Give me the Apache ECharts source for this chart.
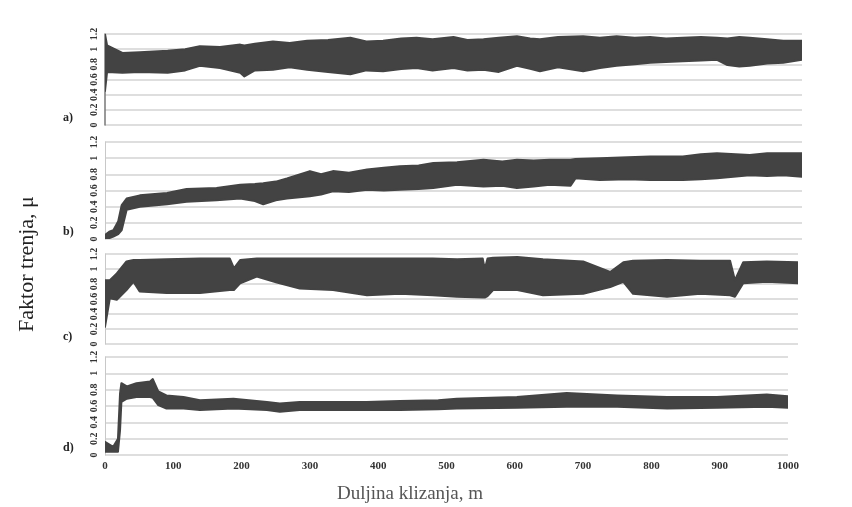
<!DOCTYPE html>
<html>
<head>
<meta charset="utf-8">
<script src="https://cdn.jsdelivr.net/npm/echarts@6/dist/echarts.min.js"></script>
<style>html,body{margin:0;padding:0;background:#fff}#c{width:852px;height:507px}</style>
</head>
<body>
<div id="c"></div>
<script>
// Panel labels and tick labels
var panelNames = ['a)', 'b)', 'c)', 'd)'];
var xTicks = [0, 100, 200, 300, 400, 500, 600, 700, 800, 900, 1000];
var yTicks = [0, 0.2, 0.4, 0.6, 0.8, 1, 1.2];

// Panel a) envelope of the friction trace (sliding distance m, lower, upper)
var aX    = [0, 3, 25, 50, 90, 115, 136, 165, 194, 200, 215, 241, 265, 290, 320, 352, 375, 399, 425, 447, 470, 500, 520, 543, 565, 591, 610, 624, 650, 686, 710, 734, 760, 782, 805, 829, 855, 878, 893, 910, 925, 950, 973, 1000];
var aLow  = [0.45, 0.70, 0.69, 0.70, 0.69, 0.72, 0.78, 0.75, 0.69, 0.64, 0.72, 0.73, 0.76, 0.73, 0.70, 0.67, 0.72, 0.71, 0.74, 0.75, 0.72, 0.75, 0.72, 0.73, 0.70, 0.78, 0.74, 0.71, 0.76, 0.71, 0.75, 0.78, 0.80, 0.82, 0.83, 0.84, 0.85, 0.86, 0.79, 0.77, 0.78, 0.81, 0.82, 0.86];
var aHigh = [1.20, 1.05, 0.95, 0.96, 0.98, 1.00, 1.04, 1.03, 1.06, 1.05, 1.07, 1.10, 1.08, 1.11, 1.12, 1.15, 1.10, 1.11, 1.14, 1.15, 1.13, 1.16, 1.12, 1.13, 1.15, 1.17, 1.14, 1.13, 1.16, 1.17, 1.15, 1.17, 1.15, 1.16, 1.14, 1.15, 1.16, 1.15, 1.14, 1.16, 1.15, 1.13, 1.11, 1.11];

// Panel b)
var bX    = [0, 6, 12, 19, 24, 31, 50, 89, 117, 160, 194, 215, 227, 245, 261, 294, 310, 327, 350, 376, 400, 423, 450, 471, 505, 543, 570, 591, 615, 638, 668, 675, 710, 750, 782, 829, 855, 878, 925, 950, 973, 1000];
var bLow  = [0.00, 0.01, 0.03, 0.06, 0.11, 0.36, 0.40, 0.43, 0.46, 0.48, 0.50, 0.47, 0.43, 0.48, 0.50, 0.53, 0.55, 0.59, 0.58, 0.61, 0.60, 0.61, 0.62, 0.63, 0.67, 0.65, 0.66, 0.63, 0.65, 0.67, 0.66, 0.75, 0.73, 0.74, 0.73, 0.73, 0.74, 0.75, 0.79, 0.78, 0.79, 0.77];
var bHigh = [0.05, 0.09, 0.11, 0.22, 0.42, 0.50, 0.54, 0.57, 0.62, 0.63, 0.67, 0.68, 0.69, 0.71, 0.75, 0.84, 0.80, 0.84, 0.82, 0.86, 0.88, 0.90, 0.91, 0.94, 0.95, 0.98, 0.96, 0.98, 0.97, 0.98, 0.98, 0.99, 1.00, 1.01, 1.02, 1.02, 1.05, 1.06, 1.04, 1.06, 1.06, 1.06];

// Panel c)
var cX    = [0, 7, 17, 31, 41, 50, 89, 137, 180, 186, 195, 219, 248, 281, 329, 378, 426, 473, 508, 545, 548, 552, 560, 595, 632, 690, 729, 748, 762, 811, 859, 902, 909, 921, 955, 1000];
var cLow  = [0.23, 0.61, 0.59, 0.72, 0.83, 0.70, 0.68, 0.68, 0.72, 0.72, 0.81, 0.90, 0.82, 0.74, 0.72, 0.65, 0.67, 0.65, 0.63, 0.62, 0.62, 0.64, 0.72, 0.72, 0.65, 0.67, 0.76, 0.83, 0.67, 0.63, 0.67, 0.65, 0.63, 0.81, 0.83, 0.81];
var cHigh = [0.85, 0.85, 0.94, 1.10, 1.12, 1.12, 1.13, 1.14, 1.14, 1.01, 1.12, 1.14, 1.14, 1.14, 1.14, 1.14, 1.14, 1.14, 1.13, 1.14, 1.00, 1.14, 1.15, 1.16, 1.13, 1.10, 0.96, 1.09, 1.11, 1.12, 1.11, 1.11, 0.85, 1.09, 1.10, 1.09];

// Panel d)
var dX    = [0, 12, 19, 22, 24, 32, 46, 66, 70, 78, 90, 115, 139, 188, 237, 256, 285, 334, 383, 432, 488, 515, 603, 676, 750, 823, 896, 969, 1000];
var dLow  = [0.04, 0.04, 0.04, 0.30, 0.65, 0.69, 0.71, 0.71, 0.70, 0.61, 0.57, 0.57, 0.55, 0.57, 0.55, 0.53, 0.55, 0.55, 0.55, 0.55, 0.56, 0.57, 0.58, 0.59, 0.59, 0.57, 0.58, 0.59, 0.58];
var dHigh = [0.16, 0.10, 0.20, 0.75, 0.88, 0.84, 0.88, 0.90, 0.93, 0.78, 0.73, 0.71, 0.67, 0.69, 0.65, 0.63, 0.65, 0.65, 0.65, 0.66, 0.67, 0.69, 0.71, 0.76, 0.73, 0.71, 0.71, 0.74, 0.72];

var panels = [
  {x: aX, lo: aLow, hi: aHigh},
  {x: bX, lo: bLow, hi: bHigh},
  {x: cX, lo: cLow, hi: cHigh},
  {x: dX, lo: dLow, hi: dHigh}
];

var grids = [
  {left: 105, top: 34,  height: 91, right: 50},
  {left: 105, top: 142, height: 97, right: 50},
  {left: 105, top: 254, height: 90, right: 54},
  {left: 105, top: 357, height: 98, right: 64}
];

var BAND = '#434343';
var labelFont = 'Liberation Serif';

function bandRenderer(p) {
  return function (params, api) {
    if (params.dataIndex !== 0) return null;
    var pts = [], k;
    for (k = 0; k < p.x.length; k++) pts.push(api.coord([p.x[k], p.hi[k]]));
    for (k = p.x.length - 1; k >= 0; k--) pts.push(api.coord([p.x[k], p.lo[k]]));
    return {
      type: 'polygon',
      shape: {points: pts},
      style: {fill: BAND, stroke: BAND, lineWidth: 2, lineJoin: 'round'}
    };
  };
}

var xAxes = [], yAxes = [], series = [], graphics = [];
panels.forEach(function (p, i) {
  var last = i === panels.length - 1;
  xAxes.push({
    type: 'value', gridIndex: i, min: xTicks[0], max: xTicks[xTicks.length - 1], interval: 100,
    show: last,
    axisLine: {show: false},
    axisTick: {show: false},
    splitLine: {show: false},
    axisLabel: {show: last, color: '#333', fontFamily: labelFont, fontWeight: 'bold', fontSize: 11, margin: 6,
      formatter: function (v) { return String(v); }}
  });
  yAxes.push({
    type: 'value', gridIndex: i, min: yTicks[0], max: yTicks[yTicks.length - 1], interval: 0.2,
    axisLine: {show: true, lineStyle: {color: i === 0 ? '#777' : '#c8c8c8', width: i === 0 ? 1.5 : 1}},
    axisTick: {show: false},
    splitLine: {show: true, lineStyle: {color: '#d3d3d3', width: 1.5}},
    axisLabel: {
      rotate: 90, margin: 6, color: '#333', fontFamily: labelFont, fontWeight: 'bold', fontSize: 10,
      formatter: function (v) { return String(Math.round(v * 10) / 10); }
    }
  });
  series.push({
    type: 'custom', xAxisIndex: i, yAxisIndex: i, coordinateSystem: 'cartesian2d',
    data: p.x.map(function (x, k) { return [x, p.lo[k], p.hi[k]]; }),
    encode: {x: 0, y: [1, 2]},
    renderItem: bandRenderer(p), silent: true, z: 3, clip: true
  });
  var g = grids[i];
  graphics.push({
    type: 'text', left: 63, top: g.top + g.height - 13,
    style: {text: panelNames[i], font: 'bold 12px "Liberation Serif"', fill: '#222'}
  });
});

graphics.push({
  type: 'text', x: 27, y: 264, rotation: Math.PI / 2,
  style: {text: 'Faktor trenja, μ', font: '22px "Liberation Serif"', fill: '#222', textAlign: 'center', textVerticalAlign: 'middle'}
});
graphics.push({
  type: 'text', x: 410, y: 494,
  style: {text: 'Duljina klizanja, m', font: '19px "Liberation Serif"', fill: '#555', textAlign: 'center', textVerticalAlign: 'middle'}
});

var chart = echarts.init(document.getElementById('c'), null, {renderer: 'canvas'});
chart.setOption({
  animation: false,
  backgroundColor: '#fff',
  grid: grids,
  xAxis: xAxes,
  yAxis: yAxes,
  series: series,
  graphic: graphics
});
</script>
</body>
</html>
